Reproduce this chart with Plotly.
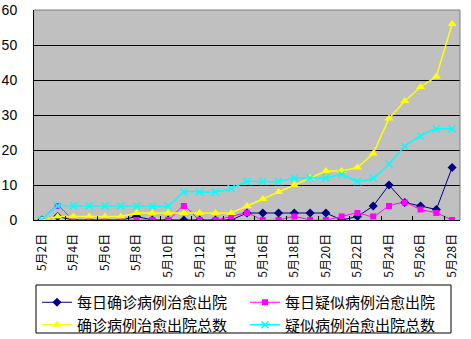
import plotly.graph_objects as go

dates = [f"5月{d}日" for d in range(2, 29)]

daily_confirmed = [0, 1, 0, 0, 0, 0, 1, 0, 0, 0, 0, 0, 0, 2, 2, 2, 2, 2, 2, 0, 1, 4, 10, 5, 4, 3, 15]
daily_suspected = [0, 4, 0, 0, 0, 0, 0, 0, 0, 4, 0, 0, 1, 2, 0, 0, 1, 0, 0, 1, 2, 1, 4, 5, 3, 2, 0]
total_confirmed = [0, 1, 1, 1, 1, 1, 2, 2, 2, 2, 2, 2, 2, 4, 6, 8, 10, 12, 14, 14, 15, 19, 29, 34, 38, 41, 56]
total_suspected = [0, 4, 4, 4, 4, 4, 4, 4, 4, 8, 8, 8, 9, 11, 11, 11, 12, 12, 12, 13, 11, 12, 16, 21, 24, 26, 26]

names = ["每日确诊病例治愈出院", "每日疑似病例治愈出院", "确诊病例治愈出院总数", "疑似病例治愈出院总数"]

fig = go.Figure()
fig.add_trace(go.Scatter(
    x=dates, y=daily_confirmed, name=names[0], mode="lines+markers", legend="legend",
    line=dict(color="#000080", width=1),
    marker=dict(symbol="diamond", size=7, color="#000080")))
fig.add_trace(go.Scatter(
    x=dates, y=daily_suspected, name=names[1], mode="lines+markers", legend="legend2",
    line=dict(color="#FF00FF", width=1, shape="spline", smoothing=0.6),
    marker=dict(symbol="square", size=6, color="#FF00FF")))
fig.add_trace(go.Scatter(
    x=dates, y=total_confirmed, name=names[2], mode="lines+markers", legend="legend",
    line=dict(color="#FFFF00", width=1.5),
    marker=dict(symbol="triangle-up", size=8, color="#FFFF00")))
fig.add_trace(go.Scatter(
    x=dates, y=total_suspected, name=names[3], mode="lines+markers", legend="legend2",
    line=dict(color="#00FFFF", width=1.5, shape="spline", smoothing=0.6),
    marker=dict(symbol="x-thin", size=7, color="#00FFFF", line=dict(width=1.5, color="#00FFFF"))))

legend_common = dict(
    orientation="v",
    xref="container", yref="container",
    xanchor="left", yanchor="top",
    bgcolor="rgba(0,0,0,0)", borderwidth=0,
    font=dict(size=15, family="Noto Sans CJK SC", color="black"),
    traceorder="normal", tracegroupgap=0,
)

fig.update_layout(
    width=471, height=339,
    margin=dict(l=34, r=11, t=10, b=119, autoexpand=False),
    paper_bgcolor="white",
    plot_bgcolor="#C0C0C0",
    font=dict(family="Noto Sans CJK SC", color="black"),
    showlegend=True,
    legend=dict(x=37 / 471, y=1 - 286 / 339, **legend_common),
    legend2=dict(x=245 / 471, y=1 - 286 / 339, **legend_common),
)

fig.update_xaxes(
    type="category",
    range=[-0.5, 26.5],
    dtick=2,
    tickson="boundaries",
    ticks="inside", ticklen=4, tickcolor="black",
    tickangle=-90,
    ticklabelstandoff=8,
    tickfont=dict(size=12, family="Noto Sans CJK SC", color="black"),
    showgrid=False,
    showline=True, linecolor="black", linewidth=1,
    automargin=False,
)
fig.update_yaxes(
    range=[0, 60], dtick=10,
    showgrid=True, gridcolor="black", gridwidth=1,
    zeroline=False,
    showline=True, linecolor="black", linewidth=1,
    ticks="inside", ticklen=4, tickcolor="black",
    ticklabelstandoff=13,
    tickfont=dict(size=14, family="Liberation Sans", color="black"),
    automargin=False,
)

fig.add_shape(type="line", xref="paper", yref="paper", x0=0, x1=1, y0=1, y1=1,
              line=dict(color="#808080", width=1), layer="above")
fig.add_shape(type="line", xref="paper", yref="paper", x0=1, x1=1, y0=0, y1=1,
              line=dict(color="#808080", width=1), layer="above")
# legend frame
fig.add_shape(type="rect", xref="paper", yref="paper",
              x0=(36 - 34) / 426, x1=(451 - 34) / 426,
              y0=(220 - 333) / 210, y1=(220 - 285) / 210,
              line=dict(color="black", width=1), fillcolor="white", layer="below")

fig.write_html("out.html")
